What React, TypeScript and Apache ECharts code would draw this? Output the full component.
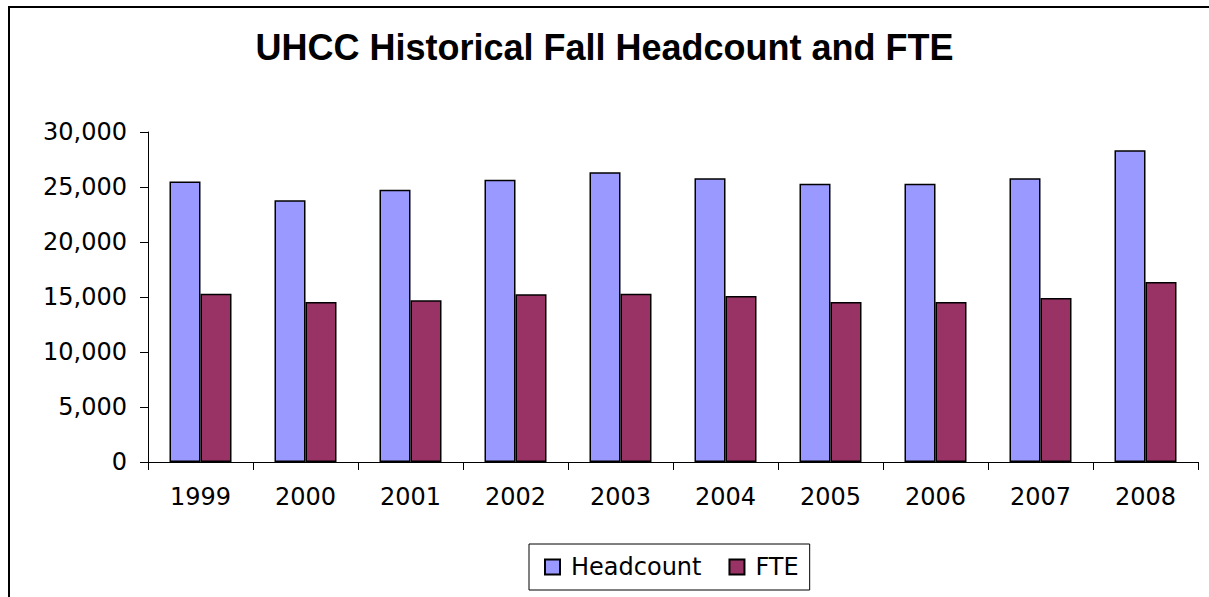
import React, { useEffect, useRef } from "react";
import * as echarts from "echarts";

const years = ["1999", "2000", "2001", "2002", "2003", "2004", "2005", "2006", "2007", "2008"];
const headcount = [25500, 23800, 24750, 25650, 26350, 25800, 25300, 25300, 25800, 28330];
const fte = [15300, 14550, 14700, 15250, 15300, 15100, 14550, 14550, 14900, 16360];
const yMin = 0;
const yMax = 30000;
const yStep = 5000;

export default function App() {
  const ref = useRef<HTMLDivElement>(null);
  useEffect(() => {
    if (!ref.current) return;
    const chart = echarts.init(ref.current, null, { renderer: "svg" });
    const labelFont = { fontFamily: "DejaVu Sans", fontSize: 24, color: "#000" };
    chart.setOption({
      animation: false,
      backgroundColor: "#fff",
      title: {
        text: "UHCC Historical Fall Headcount and FTE",
        left: "center",
        top: 24,
        textStyle: { fontFamily: "Liberation Sans", fontWeight: "bold", fontSize: 36, color: "#000" },
      },
      graphic: [
        {
          type: "rect",
          shape: { x: 9, y: 7, width: 1400, height: 800 },
          style: { fill: "none", stroke: "#000", lineWidth: 2 },
          silent: true,
          z: 100,
        },
      ],
      legend: {
        left: 529,
        top: 544,
        orient: "horizontal",
        padding: [11, 11, 11, 15],
        itemGap: 27,
        itemWidth: 15,
        itemHeight: 15,
        icon: "rect",
        borderColor: "#000",
        borderWidth: 1,
        textStyle: { ...labelFont, padding: [0, 0, 0, 6] },
        data: ["Headcount", "FTE"],
      },
      grid: { left: 148, right: 11, top: 132, bottom: 135, containLabel: false },
      xAxis: {
        type: "category",
        data: years,
        boundaryGap: true,
        axisLine: { show: true, lineStyle: { color: "#000", width: 1 } },
        axisTick: { show: true, length: 8, lineStyle: { color: "#000" } },
        axisLabel: { ...labelFont, margin: 23 },
        splitLine: { show: false },
      },
      yAxis: {
        type: "value",
        min: yMin,
        max: yMax,
        interval: yStep,
        axisLine: { show: true, lineStyle: { color: "#000", width: 1 } },
        axisTick: { show: true, length: 8, lineStyle: { color: "#000" } },
        axisLabel: {
          ...labelFont,
          margin: 21,
          formatter: (v: number) => v.toLocaleString("en-US"),
        },
        splitLine: { show: false },
      },
      series: [
        {
          name: "Headcount",
          type: "bar",
          data: headcount,
          barWidth: 31,
          barGap: "0%",
          itemStyle: { color: "#9999FF", borderColor: "#000", borderWidth: 1.5 },
        },
        {
          name: "FTE",
          type: "bar",
          data: fte,
          barWidth: 31,
          barGap: "0%",
          itemStyle: { color: "#993366", borderColor: "#000", borderWidth: 1.5 },
        },
      ],
    });
    return () => chart.dispose();
  }, []);
  return (
    <div
      ref={ref}
      style={{ position: "fixed", left: 0, top: 0, width: 1209, height: 597 }}
    />
  );
}
